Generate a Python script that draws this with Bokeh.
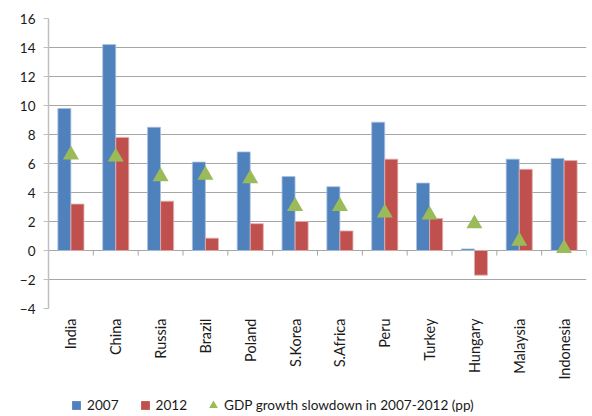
from bokeh.plotting import figure
from bokeh.layouts import column
from bokeh.models import (ColumnDataSource, Range1d, FixedTicker, Legend, LegendItem)
from bokeh.embed import file_html
from bokeh.resources import INLINE

categories = ["India", "China", "Russia", "Brazil", "Poland", "S.Korea", "S.Africa",
              "Peru", "Turkey", "Hungary", "Malaysia", "Indonesia"]
v2007 = [9.8, 14.2, 8.5, 6.1, 6.8, 5.1, 4.4, 8.85, 4.65, 0.11, 6.3, 6.35]
v2012 = [3.2, 7.8, 3.4, 0.85, 1.85, 2.0, 1.35, 6.3, 2.2, -1.7, 5.6, 6.2]
slowdown = [6.6, 6.45, 5.1, 5.2, 4.95, 3.05, 3.05, 2.6, 2.45, 1.85, 0.65, 0.15]
y_ticks = [-4, -2, 0, 2, 4, 6, 8, 10, 12, 14, 16]
series_names = ["2007", "2012", "GDP growth slowdown in 2007-2012 (pp)"]

FONT = "Lato"
TXT = "#1A1A1A"
BLUE, RED, GREEN = "#4F81BD", "#C0504D", "#9BBB59"
GRID = "#A6A6A6"

n = len(categories)
centers = [i + 0.5 for i in range(n)]
bw = 0.29
off = 0.146

src = ColumnDataSource(dict(
    cat=categories,
    xc=centers,
    xb=[c - off for c in centers],
    xr=[c + off for c in centers],
    v07=v2007, v12=v2012, sd=slowdown,
))

p = figure(width=592, height=390, output_backend="svg", toolbar_location=None,
           x_range=Range1d(0, n), y_range=Range1d(-4, 16),
           min_border_left=48, min_border_right=6, min_border_top=18,
           min_border_bottom=82)
p.outline_line_color = None
p.background_fill_color = "white"
p.border_fill_color = "white"

# grid
p.xgrid.visible = False
p.ygrid.ticker = FixedTicker(ticks=y_ticks)
p.ygrid.grid_line_color = GRID
p.ygrid.grid_line_width = 1

# y axis
p.yaxis.ticker = FixedTicker(ticks=y_ticks)
p.yaxis.axis_line_color = "#BFBFBF"
p.yaxis.axis_line_width = 1.5
p.yaxis.major_tick_line_color = "#BFBFBF"
p.yaxis.major_tick_out = 5
p.yaxis.major_tick_in = 0
p.yaxis.minor_tick_line_color = None
p.yaxis.major_label_standoff = 8
p.yaxis.major_label_text_font = FONT
p.yaxis.major_label_text_font_size = "13.5px"
p.yaxis.major_label_text_color = TXT

# x axis (labels only)
p.xaxis.ticker = FixedTicker(ticks=centers)
p.xaxis.major_label_overrides = {c: cat for c, cat in zip(centers, categories)}
p.xaxis.major_label_orientation = 3.14159265 / 2
p.xaxis.axis_line_color = None
p.xaxis.major_tick_line_color = None
p.xaxis.minor_tick_line_color = None
p.xaxis.major_tick_out = 0
p.xaxis.major_label_standoff = 10
p.xaxis.major_label_text_font = FONT
p.xaxis.major_label_text_font_size = "14.5px"
p.xaxis.major_label_text_color = TXT

# category boundary ticks at zero line
bounds = list(range(n + 1))
p.segment(x0=bounds, y0=[0] * len(bounds), x1=bounds, y1=[-0.35] * len(bounds),
          line_color=GRID, line_width=1)

p.vbar(x="xb", top="v07", bottom=0, width=bw, source=src,
       fill_color=BLUE, line_color="#A9C0DE", line_width=0.8)
p.vbar(x="xr", top="v12", bottom=0, width=bw, source=src,
       fill_color=RED, line_color="#E2AFAE", line_width=0.8)
p.scatter(x="xc", y="sd", marker="triangle", size=16, source=src,
          fill_color=GREEN, line_color=None)

# legend strip underneath (its glyphs sit outside the strip's visible ranges)
lg = figure(width=592, height=26, output_backend="svg", toolbar_location=None,
            x_range=Range1d(-3, -2), y_range=Range1d(100, 101),
            x_axis_type=None, y_axis_type=None, min_border=0)
lg.outline_line_color = None
l1 = lg.scatter(x="xb", y="v07", marker="square", source=src, fill_color=BLUE, line_color=None)
l2 = lg.scatter(x="xr", y="v12", marker="square", source=src, fill_color=RED, line_color=None)
l3 = lg.scatter(x="xc", y="sd", marker="triangle", source=src,
                fill_color=GREEN, line_color=None)

legend = Legend(items=[
    LegendItem(label=series_names[0], renderers=[l1]),
    LegendItem(label=series_names[1], renderers=[l2]),
    LegendItem(label=series_names[2], renderers=[l3]),
], orientation="horizontal", location=(17, 0))
legend.glyph_width = 22
legend.glyph_height = 22
legend.label_standoff = -3
legend.spacing = 15
legend.padding = 0
legend.margin = 0
legend.border_line_color = None
legend.background_fill_alpha = 0
legend.label_text_font = FONT
legend.label_text_font_size = "13.6px"
legend.label_text_color = TXT
legend.label_height = 20
lg.add_layout(legend, "center")

open("out.html", "w").write(file_html(column(p, lg, spacing=0), INLINE))
